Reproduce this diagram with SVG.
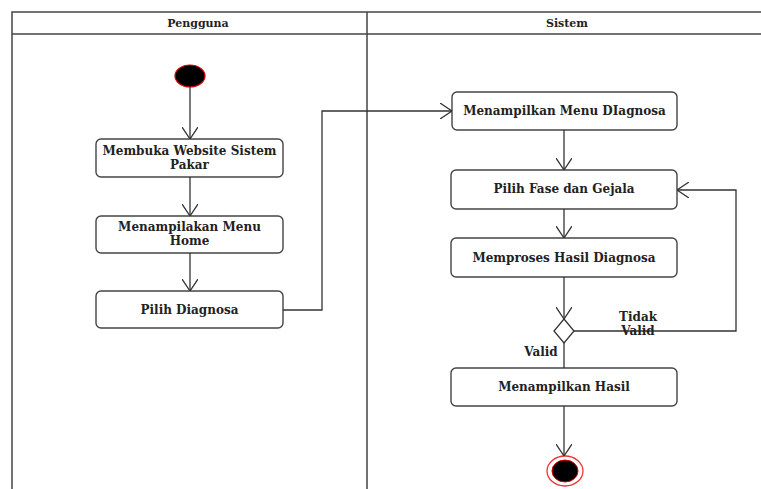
<svg xmlns="http://www.w3.org/2000/svg" width="761" height="489" viewBox="0 0 761 489">
<defs>
<marker id="arr" viewBox="0 0 12 16" refX="12" refY="8" markerWidth="12" markerHeight="16" markerUnits="userSpaceOnUse" orient="auto">
<path d="M0,0 L12,8 L0,16" fill="none" stroke="#333" stroke-width="1.3"/>
</marker>
<style>
.lane{fill:none;stroke:#444;stroke-width:1.5}
.box{fill:#fff;stroke:#444;stroke-width:1.4}
.t{font-family:"DejaVu Serif","Liberation Serif",serif;font-weight:bold;font-size:12px;fill:#222;text-anchor:middle}
.h{font-size:11px}
.c{fill:none;stroke:#333;stroke-width:1.3}
</style>
</defs>
<rect width="761" height="489" fill="#fff"/>
<g id="lanes">
<path class="lane" d="M12,489 V12 H761 M12,34 H761 M367,12 V489"/>
<text class="t h" x="198" y="27">Pengguna</text>
<text class="t h" x="567" y="27">Sistem</text>
</g>
<g id="start"><ellipse cx="190" cy="76" rx="15" ry="11" fill="#000" stroke="#d00" stroke-width="1.2"/></g>
<g id="n1"><rect class="box" x="96" y="139" width="187" height="38" rx="5"/>
<text class="t" x="189.5" y="155">Membuka Website Sistem</text><text class="t" x="189.5" y="169">Pakar</text></g>
<g id="n2"><rect class="box" x="96" y="216" width="187" height="37" rx="5"/>
<text class="t" x="189.5" y="231">Menampilakan Menu</text><text class="t" x="189.5" y="245">Home</text></g>
<g id="n3"><rect class="box" x="96" y="291" width="187" height="37" rx="5"/>
<text class="t" x="189.5" y="314">Pilih Diagnosa</text></g>
<g id="n4"><rect class="box" x="452" y="92" width="225" height="38" rx="5"/>
<text class="t" x="564.5" y="115">Menampilkan Menu DIagnosa</text></g>
<g id="n5"><rect class="box" x="451" y="170" width="226" height="39" rx="5"/>
<text class="t" x="564" y="193">Pilih Fase dan Gejala</text></g>
<g id="n6"><rect class="box" x="451" y="238" width="226" height="39" rx="5"/>
<text class="t" x="564" y="262">Memproses Hasil Diagnosa</text></g>
<g id="dec"><path d="M564,319 L574,331 L564,343 L554,331 Z" fill="#fff" stroke="#333" stroke-width="1.3"/></g>
<g id="n7"><rect class="box" x="451" y="368" width="226" height="38" rx="5"/>
<text class="t" x="564" y="391">Menampilkan Hasil</text></g>
<g id="end"><ellipse cx="565" cy="471" rx="18" ry="15" fill="#fff" stroke="#e33" stroke-width="1.3"/>
<ellipse cx="565" cy="471" rx="13" ry="11" fill="#000" stroke="#d00" stroke-width="1"/></g>
<g id="connectors">
<path class="c" d="M190,87 V139" marker-end="url(#arr)"/>
<path class="c" d="M190,177 V216" marker-end="url(#arr)"/>
<path class="c" d="M190,253 V291" marker-end="url(#arr)"/>
<path class="c" d="M283,310 H322 V111 H452" marker-end="url(#arr)"/>
<path class="c" d="M564,130 V170" marker-end="url(#arr)"/>
<path class="c" d="M564,209 V238" marker-end="url(#arr)"/>
<path class="c" d="M564,277 V319" marker-end="url(#arr)"/>
<path class="c" d="M574,331 H736 V190 H677" marker-end="url(#arr)"/>
<path class="c" d="M564,343 V368"/>
<path class="c" d="M564,406 V456" marker-end="url(#arr)"/>
<text class="t" x="638" y="321">Tidak</text>
<text class="t" x="638" y="335">Valid</text>
<text class="t" x="541" y="356">Valid</text>
</g>
</svg>
